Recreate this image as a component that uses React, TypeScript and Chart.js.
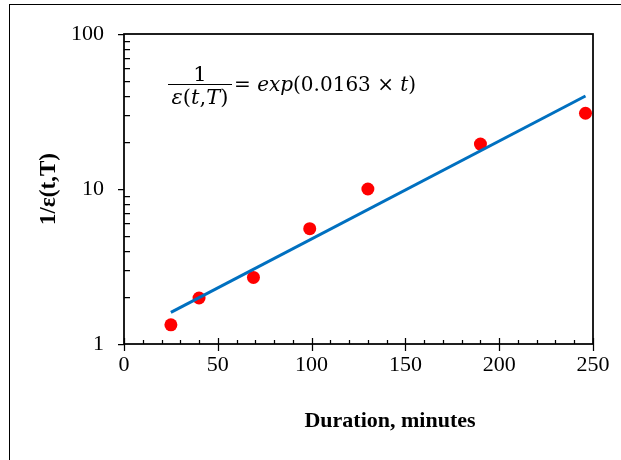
import React, { useEffect, useRef } from "react";
import { Chart, registerables } from "chart.js";

Chart.register(...registerables);

// ---- Data ----
const durations = [25, 40, 69, 99, 130, 190, 246];
const inverseEps = [1.33, 1.98, 2.69, 5.55, 10.0, 19.5, 30.8];
const fitDurations = [25, 246];
const fitValues = [1.6, 39.8];
const xTickValues = [0, 50, 100, 150, 200, 250];
const xMinorValues = [10, 20, 30, 40, 60, 70, 80, 90, 110, 120, 130, 140, 160, 170, 180, 190, 210, 220, 230, 240];
const yTickValues = [1, 10, 100];
const yMinorValues = [2, 3, 4, 5, 6, 7, 8, 9, 20, 30, 40, 50, 60, 70, 80, 90];

const SERIF = "'Liberation Serif', 'Times New Roman', serif";

const frameTicksPlugin = {
  id: "frameTicks",
  afterDraw(chart: any) {
    const { ctx, chartArea } = chart;
    const xs = chart.scales.x;
    const ys = chart.scales.y;
    const { left, right, top, bottom } = chartArea;
    ctx.save();
    ctx.strokeStyle = "#000";
    ctx.lineWidth = 1.75;
    ctx.strokeRect(left, top, right - left, bottom - top);
    ctx.lineWidth = 1.25;
    ctx.beginPath();
    xTickValues.forEach((v) => {
      const px = Math.round(xs.getPixelForValue(v)) + 0.5;
      ctx.moveTo(px, bottom - 6);
      ctx.lineTo(px, bottom + 7);
    });
    xMinorValues.forEach((v) => {
      const px = Math.round(xs.getPixelForValue(v)) + 0.5;
      ctx.moveTo(px, bottom - 4);
      ctx.lineTo(px, bottom);
    });
    yTickValues.forEach((v) => {
      const py = Math.round(ys.getPixelForValue(v)) + 0.5;
      ctx.moveTo(left - 6, py);
      ctx.lineTo(left, py);
    });
    yMinorValues.forEach((v) => {
      const py = Math.round(ys.getPixelForValue(v)) + 0.5;
      ctx.moveTo(left, py);
      ctx.lineTo(left + 6, py);
    });
    ctx.stroke();
    ctx.restore();
  },
};

export default function App() {
  const canvasRef = useRef<HTMLCanvasElement | null>(null);

  useEffect(() => {
    if (!canvasRef.current) return;
    const chart = new Chart(canvasRef.current, {
      type: "scatter",
      data: {
        datasets: [
          {
            label: "fit",
            data: fitDurations.map((t, i) => ({ x: t, y: fitValues[i] })),
            showLine: true,
            borderColor: "#0070C0",
            backgroundColor: "#0070C0",
            borderWidth: 3,
            pointRadius: 0,
            order: 0,
          },
          {
            label: "measured",
            data: durations.map((t, i) => ({ x: t, y: inverseEps[i] })),
            backgroundColor: "#FF0000",
            borderColor: "#FF0000",
            borderWidth: 0,
            pointRadius: 6.5,
            order: 1,
          },
        ],
      },
      options: {
        responsive: false,
        animation: false,
        devicePixelRatio: 1,
        layout: { padding: { top: 34, right: 28, left: 0, bottom: 0 } },
        plugins: { legend: { display: false }, tooltip: { enabled: false } },
        scales: {
          x: {
            type: "linear",
            min: 0,
            max: 250,
            grid: { display: false, drawTicks: false },
            border: { display: false },
            ticks: {
              stepSize: 50,
              padding: 8,
              color: "#000",
              font: { family: SERIF, size: 22 },
              maxRotation: 0,
            },
            afterFit: (scale: any) => {
              scale.height = 116;
            },
          },
          y: {
            type: "logarithmic",
            min: 1,
            max: 100,
            grid: { display: false, drawTicks: false },
            border: { display: false },
            ticks: {
              autoSkip: false,
              padding: 20,
              color: "#000",
              font: { family: SERIF, size: 22 },
              callback: (value: any) => (yTickValues.includes(Number(value)) ? String(value) : ""),
            },
            title: {
              display: true,
              text: "1/ε(t,T)",
              color: "#000",
              font: { family: SERIF, size: 23, weight: "bold" },
              padding: { top: 35, bottom: 0 },
            },
            afterFit: (scale: any) => {
              scale.width = 124;
            },
          },
        },
      },
      plugins: [frameTicksPlugin],
    });
    return () => chart.destroy();
  }, []);

  const mathFont = "'DejaVu Serif', serif";
  return (
    <div
      style={{
        position: "fixed",
        left: 0,
        top: 0,
        width: 621,
        height: 460,
        background: "#fff",
        overflow: "hidden",
      }}
    >
      <canvas ref={canvasRef} width={621} height={460} style={{ position: "absolute", left: 0, top: 0 }} />
      <div
        style={{
          position: "absolute",
          left: 9,
          top: 4,
          width: 800,
          height: 800,
          borderLeft: "1px solid #000",
          borderTop: "1px solid #000",
          pointerEvents: "none",
        }}
      />
      {/* equation */}
      <div style={{ position: "absolute", left: 150, top: 62, width: 100, textAlign: "center", fontFamily: mathFont, fontSize: 21, lineHeight: "24px", color: "#000" }}>
        1
      </div>
      <div style={{ position: "absolute", left: 168, top: 83.5, width: 64, height: 0, borderTop: "1.5px solid #000" }} />
      <div style={{ position: "absolute", left: 150, top: 85, width: 100, textAlign: "center", fontFamily: mathFont, fontSize: 21, lineHeight: "24px", color: "#000", whiteSpace: "nowrap" }}>
        <i>ε</i>(<i>t</i>,<i>T</i>)
      </div>
      <div style={{ position: "absolute", left: 234, top: 72, fontFamily: mathFont, fontSize: 20, lineHeight: "24px", color: "#000", whiteSpace: "nowrap" }}>
        = <i>exp</i>(0.0163 × <i>t</i>)
      </div>
      {/* x axis title */}
      <div
        style={{
          position: "absolute",
          left: 240,
          width: 300,
          top: 407,
          textAlign: "center",
          fontFamily: SERIF,
          fontWeight: "bold",
          fontSize: 22,
          lineHeight: "26px",
          color: "#000",
        }}
      >
        Duration, minutes
      </div>
    </div>
  );
}
